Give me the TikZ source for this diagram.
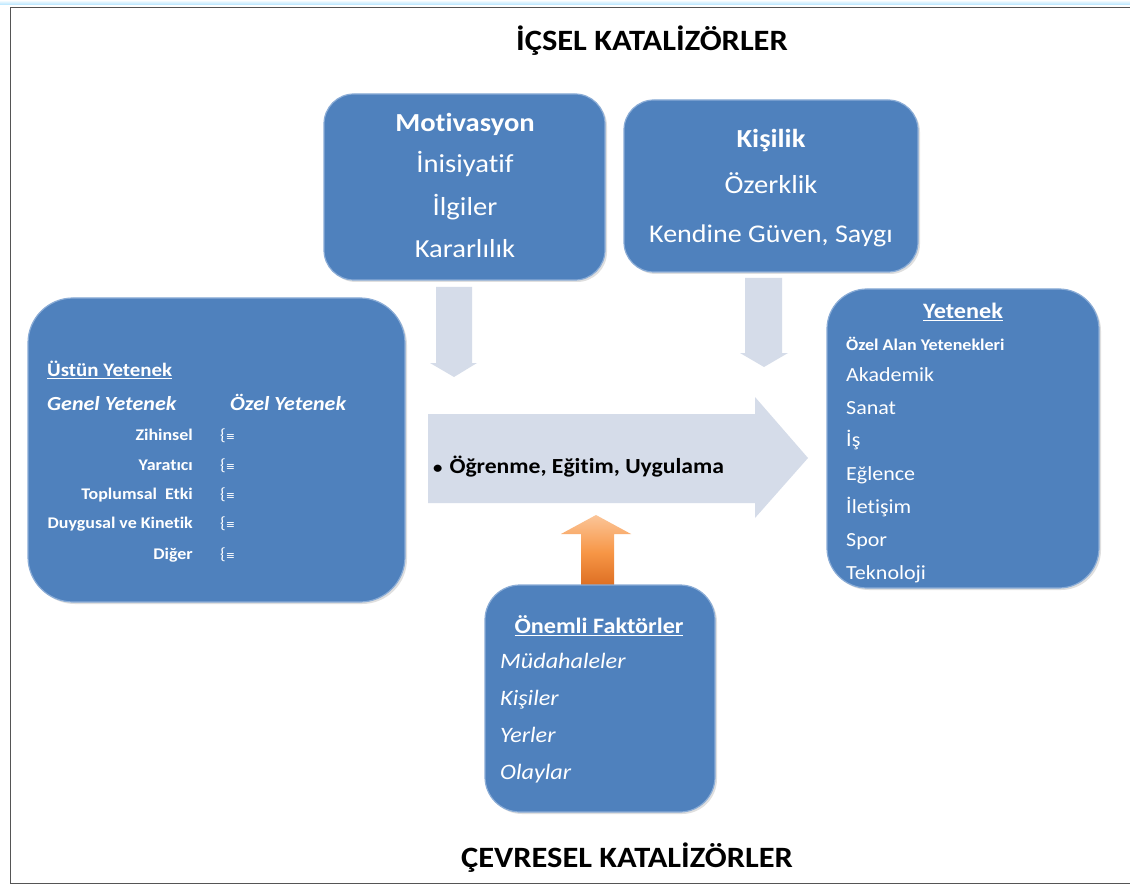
\documentclass[tikz,border=0pt]{standalone}
\usepackage{fontspec}
\setmainfont{Carlito}[FakeStretch=1.1, Ligatures=NoCommon]
\newfontfamily\symfont{DejaVu Sans}
\usetikzlibrary{shadows}
\definecolor{boxblue}{HTML}{4F81BD}
\definecolor{boxedge}{HTML}{8AACD6}
\definecolor{pale}{HTML}{D5DCE9}
\definecolor{framegray}{HTML}{555555}
\definecolor{orangetop}{HTML}{FBC598}
\definecolor{orangemid}{HTML}{F79646}
\definecolor{orangebot}{HTML}{D9691E}
\newcommand\fsz[1]{\fontsize{#1}{#1}\selectfont}
\begin{document}
\begin{tikzpicture}[x=1pt,y=-1pt,
  panel/.style={draw=boxedge, line width=1.2pt, fill=boxblue,
    drop shadow={opacity=0.25, shadow xshift=2pt, shadow yshift=-2pt},
    inner sep=0pt},
  ct/.style={text=white, inner sep=0pt, font=\fsz{#1}, anchor=base, yshift={-0.3*#1pt}},
  lt/.style={ct=#1, anchor=base west},
  rt/.style={ct=#1, anchor=base east},
  blockarrow/.style={fill=pale, draw=none}]
\useasboundingbox (0,0) rectangle (1130,885);
\fill[white] (0,0) rectangle (1130,885);

% page frame
\shade[top color=white, bottom color=blue!35!cyan!30] (0,0) rectangle (1130,5);
\draw[framegray, line width=1.5pt] (1130,7.5) -- (10.5,7.5) -- (10.5,883.5) -- (1130,883.5);

% headings
\node[ct=29.5, text=black] (icsel) at (652,42) {\bfseries İÇSEL KATALİZÖRLER};
\node[ct=29.5, text=black] (cevresel) at (627,859) {\bfseries ÇEVRESEL KATALİZÖRLER};

% block arrows
\fill[blockarrow] (436,287) -- (472,287) -- (472,363) -- (477,363) -- (454,377)
  -- (430,363) -- (436,363) -- cycle;
\fill[blockarrow] (745,278) -- (782,278) -- (782,353) -- (788,353) -- (764,367)
  -- (740,353) -- (745,353) -- cycle;
\fill[blockarrow] (428,414) -- (755,414) -- (755,397) -- (808,458) -- (755,518)
  -- (755,503) -- (428,503) -- cycle;
\node[lt=21.5, text=black] (ogr) at (433,467)
  {\bfseries{\fsz{17}\textbullet}\hspace{7pt}Öğrenme, Eğitim, Uygulama};

% orange arrow
\shade[top color=orangetop, bottom color=orangebot, middle color=orangemid]
  (581,590) -- (581,534) -- (561,534) -- (596,515) -- (631,534) -- (614,534)
  -- (614,590) -- cycle;

% panels
\node[panel, rounded corners=30pt, minimum width=281pt, minimum height=186pt] (mot) at (464.5,187) {};
\node[panel, rounded corners=30pt, minimum width=294pt, minimum height=172pt] (kis) at (771,186) {};
\node[panel, rounded corners=45pt, minimum width=377pt, minimum height=304pt] (ust) at (216.5,450) {};
\node[panel, rounded corners=40pt, minimum width=272pt, minimum height=299pt] (yet) at (963,438.5) {};
\node[panel, rounded corners=35pt, minimum width=230pt, minimum height=227pt] (onm) at (600,698.5) {};

% Motivasyon
\node[ct=26] at (465,124) {\bfseries Motivasyon};
\node[ct=26] at (465,165) {İnisiyatif};
\node[ct=26] at (465,208) {İlgiler};
\node[ct=26] at (465,250) {Kararlılık};

% Kişilik
\node[ct=26] at (771,140) {\bfseries Kişilik};
\node[ct=26] at (771,186) {Özerklik};
\node[ct=25.5] at (771,235) {Kendine Güven, Saygı};

% Üstün Yetenek
\node[lt=19] at (47,371) {\bfseries \underline{Üstün Yetenek}};
\node[lt=20] at (47,404) {\bfseries\itshape Genel Yetenek};
\node[lt=20] at (230,404) {\bfseries\itshape Özel Yetenek};
\foreach \lbl/\yy in {Zihinsel/436, Yaratıcı/466, Toplumsal~~Etki/495,
    Duygusal ve Kinetik/524, Diğer/555}{
  \node[rt=16.3] at (193,\yy) {\bfseries \lbl};
  \node[lt=16.3] at (220,\yy) {\{{\symfont\fsz{11}≡}};
}

% Yetenek
\node[ct=22] at (963,312) {\bfseries \underline{Yetenek}};
\node[lt=16.4] at (846,346) {\bfseries Özel Alan Yetenekleri};
\foreach \lbl/\yy in {Akademik/375, Sanat/408, İş/440, Eğlence/474,
    İletişim/507, Spor/540, Teknoloji/573}{
  \node[lt=20] at (846,\yy) {\lbl};
}

% Önemli Faktörler
\node[ct=22] at (599,627) {\bfseries \underline{Önemli Faktörler}};
\foreach \lbl/\yy in {Müdahaleler/662, Kişiler/699, Yerler/736, Olaylar/773}{
  \node[lt=22] at (500,\yy) {\itshape \lbl};
}
\end{tikzpicture}
\end{document}
